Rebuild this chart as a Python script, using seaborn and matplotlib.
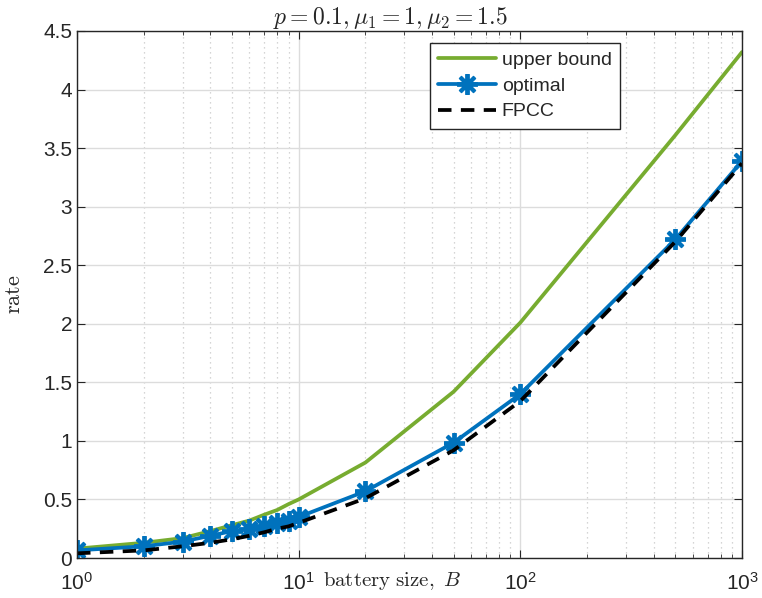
import numpy as np
import pandas as pd
import matplotlib
matplotlib.use("Agg")
import matplotlib.pyplot as plt
import seaborn as sns
from matplotlib.ticker import LogLocator, NullFormatter

# Data
B = [1, 2, 3, 4, 5, 6, 7, 8, 9, 10, 20, 50, 100, 500, 1000]
upper_bound = [0.08, 0.13, 0.17, 0.23, 0.28, 0.32, 0.37, 0.41, 0.46, 0.50, 0.815, 1.42, 2.01, 3.61, 4.32]
optimal = [0.065, 0.10, 0.14, 0.19, 0.23, 0.25, 0.27, 0.30, 0.32, 0.35, 0.57, 0.985, 1.40, 2.72, 3.39]
fpcc = [0.04, 0.065, 0.10, 0.13, 0.16, 0.19, 0.22, 0.25, 0.27, 0.30, 0.51, 0.92, 1.34, 2.70, 3.37]

sns.set_style("ticks")
plt.rcParams['font.family'] = ['Liberation Sans', 'DejaVu Sans']
plt.rcParams['mathtext.fontset'] = 'cm'

df = pd.DataFrame({'B': B, 'upper bound': upper_bound, 'optimal': optimal, 'FPCC': fpcc})

fig = plt.figure(figsize=(7.62, 5.98), dpi=100)
ax = fig.add_axes([77/762, 1-558/598, (742-77)/762, (558-31)/598])

green = '#77AC30'
blue = '#0072BD'

sns.lineplot(data=df, x='B', y='upper bound', ax=ax, color=green, linewidth=2.7, label='upper bound')
sns.lineplot(data=df, x='B', y='optimal', ax=ax, color=blue, linewidth=2.7, marker=(8, 2, 0),
             markersize=15, markeredgewidth=2.8, markeredgecolor=blue, label='optimal')
sns.lineplot(data=df, x='B', y='FPCC', ax=ax, color='black', linewidth=2.7, linestyle=(0, (3.6, 2.5)),
             label='FPCC')

ax.set_xscale('log')
ax.set_xlim(1, 1000)
ax.set_ylim(0, 4.5)
ax.set_yticks(np.arange(0, 4.51, 0.5))
ax.set_yticklabels(['0', '0.5', '1', '1.5', '2', '2.5', '3', '3.5', '4', '4.5'])
ax.xaxis.set_minor_locator(LogLocator(base=10, subs=np.arange(2, 10)))
ax.xaxis.set_minor_formatter(NullFormatter())

ax.grid(True, which='major', color='#dcdcdc', linewidth=1.0)
ax.grid(True, which='minor', axis='x', color='#c8c8c8', linewidth=0.9, linestyle=(0, (1, 3)))
ax.set_axisbelow(True)

for s in ax.spines.values():
    s.set_visible(True)
    s.set_color('#262626')
    s.set_linewidth(1.0)

ax.tick_params(which='both', direction='in', top=True, right=True, labelsize=15, colors='#262626')
ax.tick_params(which='major', length=6)
ax.tick_params(which='minor', length=3)
ax.tick_params(axis='x', which='major', pad=10)
for lbl in ax.get_xticklabels() + ax.get_yticklabels():
    lbl.set_color('#262626')

ax.set_title(r'$p = 0.1, \mu_1 = 1, \mu_2 = 1.5$', fontsize=17, pad=5, x=(390-77)/665)
ax.set_xlabel(r'$\mathrm{battery\ size,}\ B$', fontsize=15)
ax.xaxis.set_label_coords((392-77)/665, -0.022)
ax.xaxis.label.set_va('top')
ax.set_ylabel(r'$\mathrm{rate}$', fontsize=16)
ax.yaxis.set_label_coords(-0.078, 0.5)

leg = ax.legend(loc='upper right', bbox_to_anchor=((620-77)/665, (558-43)/527), fontsize=14,
                frameon=True, fancybox=False, edgecolor='#262626', framealpha=1,
                handlelength=3.0, handletextpad=0.3, borderpad=0.42, labelspacing=0.42,
                borderaxespad=0)
leg.get_frame().set_linewidth(1.0)

fig.savefig('out.png', dpi=100)
